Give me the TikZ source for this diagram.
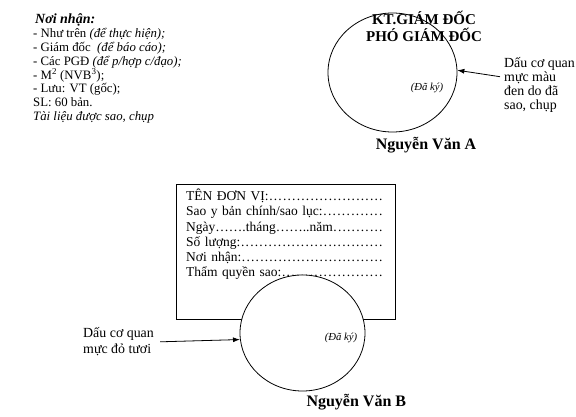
\documentclass[tikz,border=0pt]{standalone}
\usepackage{fontspec}
\setmainfont{Liberation Serif}
\usetikzlibrary{arrows.meta,positioning,shapes.geometric}
\newcommand{\dotrun}{\xleaders\hbox to .333em{\hss.\hss}\hfill\kern0pt}

\begin{document}
\begin{tikzpicture}[x=1pt,y=-1pt,
seal/.style={draw,ellipse,line width=.8pt,inner sep=0pt,minimum width=129pt,minimum height=119pt},
note/.style={align=left,inner sep=0pt,font=\fontsize{13.9}{14}\selectfont},
title/.style={align=center,inner sep=0pt,font=\fontsize{15}{17}\selectfont\bfseries},
signer/.style={inner sep=0pt,font=\fontsize{16}{18}\selectfont\bfseries},
signed/.style={inner sep=0pt,font=\fontsize{10.7}{12}\selectfont\itshape},
form/.style={align=left,inner sep=0pt,font=\fontsize{13.5}{15.3}\selectfont},
arr/.style={-{Latex[length=7pt,width=5pt]},line width=.8pt}]
\useasboundingbox (0,0) rectangle (576,417);
% recipients (base = last line)
\node[align=left,inner sep=0pt,anchor=base west,font=\fontsize{12.8}{13.8}\selectfont](recipients)at(33,120.6){{\kern2pt\fontsize{14}{14}\selectfont\bfseries\itshape Nơi nhận:}\\- Như trên \textit{(để thực hiện);}\\- Giám đốc\ \ \textit{(để báo cáo);}\\- Các PGĐ \textit{(để p/hợp c/đạo);}\\- M\textsuperscript{2} (NVB\textsuperscript{3});\\- Lưu: VT (gốc);\\SL: 60 bản.\\\textit{Tài liệu được sao, chụp}};
% original signature
\node[seal](sealA)at(392.5,72.5){};
\node[title,anchor=base](rank)at(424,42){KT.GIÁM ĐỐC\\PHÓ GIÁM ĐỐC};
\node[signed,anchor=base](signedA)at(427,90.7){(Đã ký)};
\node[signer,anchor=base](nameA)at(426,149.3){Nguyễn Văn A};
\node[note,anchor=base west](noteA)at(504,110){Dấu cơ quan\\mực màu\\đen do đã\\sao, chụp};
\draw[arr]([shift={(-4,-33.3)}]noteA.base west)--(sealA.2);
% copy stamp
\node[draw,line width=.8pt,anchor=north west,inner sep=0pt,minimum width=219.5pt,minimum height=135pt](copybox)at(175.5,184){};
\node[form,anchor=base west,text width=197pt](copytext)at(186,200.5){TÊN ĐƠN VỊ:\dotrun\\Sao y bản chính/sao lục:\dotrun\\Ngày…….tháng……..năm\dotrun\\Số lượng:\dotrun\\Nơi nhận:\dotrun\\Thẩm quyền sao:\dotrun};
\node[seal,fill=white,minimum width=125pt,minimum height=116pt](sealB)at(302.5,333){};
\node[signed,anchor=base](signedB)at(341,340){(Đã ký)};
\node[signer,anchor=base](nameB)at(356.3,406){Nguyễn Văn B};
\node[note,anchor=base west,font=\fontsize{13.9}{16}\selectfont](noteB)at(83,353.7){Dấu cơ quan\\mực đỏ tươi};
\draw[arr]([xshift=6pt]noteB.east)--(sealB.186);
\end{tikzpicture}
\end{document}
